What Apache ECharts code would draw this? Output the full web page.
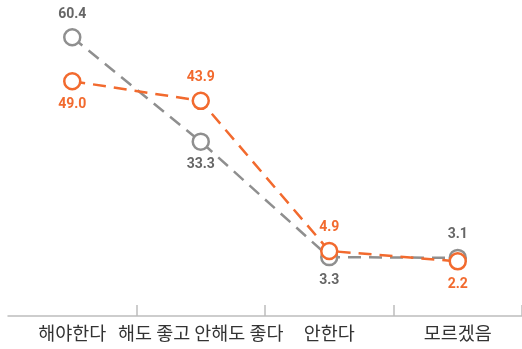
<!DOCTYPE html>
<html><head><meta charset="utf-8">
<script src="https://cdn.jsdelivr.net/npm/echarts@6/dist/echarts.min.js"></script>
<style>html,body{margin:0;padding:0;background:#fff}#c{width:522px;height:349px}</style>
</head><body><div id="c"></div>
<script>
const categories = ['해야한다', '해도 좋고 안해도 좋다', '안한다', '모르겠음'];
const grayValues = [60.4, 33.3, 3.3, 3.1];
const orangeValues = [49.0, 43.9, 4.9, 2.2];
const grayLabelPos = ['top', 'bottom', 'bottom', 'top'];
const orangeLabelPos = ['bottom', 'top', 'top', 'bottom'];

const GRAY = '#8f8f8f', ORANGE = '#f26a2e';
function mk(vals, pos) {
  return vals.map((v, i) => ({ value: v, label: { position: pos[i] } }));
}
const chart = echarts.init(document.getElementById('c'));
chart.setOption({
  animation: false,
  grid: { left: 8, right: -20, top: 10, bottom: 33 },
  xAxis: {
    type: 'category', data: categories, boundaryGap: true,
    axisLine: { onZero: false, lineStyle: { color: '#bdbdbd', width: 1.5 } },
    axisTick: { show: true, inside: true, length: 11, interval: (i) => i > 0, lineStyle: { color: '#bdbdbd', width: 1.5 } },
    axisLabel: { interval: 0, color: '#333', fontSize: 18.5, margin: 8, fontFamily: 'Noto Sans CJK KR' }
  },
  yAxis: { type: 'value', min: -12, max: 67.5, show: false, splitLine: { show: false } },
  series: [
    {
      type: 'line', data: mk(grayValues, grayLabelPos), symbol: 'circle', symbolSize: 16,
      lineStyle: { color: GRAY, width: 2.5, type: [13, 8] },
      itemStyle: { color: '#fff', borderColor: GRAY, borderWidth: 2.5 },
      label: { show: true, color: '#666', fontSize: 14, fontWeight: 'bold', fontFamily: 'Roboto', distance: 7, formatter: p => p.value.toFixed(1) },
      z: 2
    },
    {
      type: 'line', data: mk(orangeValues, orangeLabelPos), symbol: 'circle', symbolSize: 16,
      lineStyle: { color: ORANGE, width: 2.5, type: [13, 8] },
      itemStyle: { color: '#fff', borderColor: ORANGE, borderWidth: 2.5 },
      label: { show: true, color: ORANGE, fontSize: 14, fontWeight: 'bold', fontFamily: 'Roboto', distance: 7, formatter: p => p.value.toFixed(1) },
      z: 3
    }
  ]
});
</script></body></html>
